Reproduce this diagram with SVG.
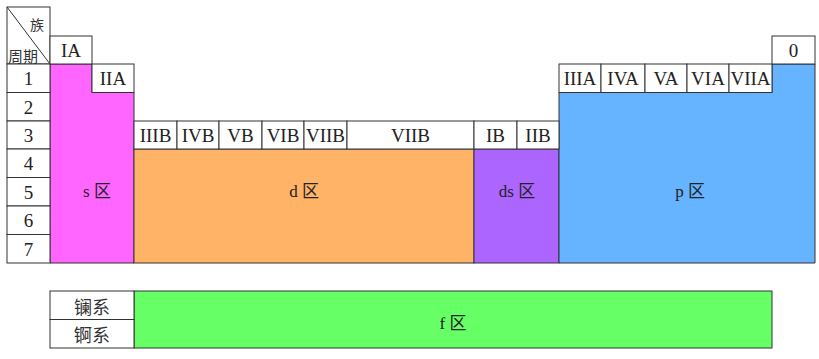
<svg xmlns="http://www.w3.org/2000/svg" width="819" height="359" viewBox="0 0 819 359">
<style>
.cell{fill:#fff;stroke:#333;stroke-width:1}
.blk{stroke:#333;stroke-width:1}
text{font-family:"Liberation Serif","Noto Sans CJK SC",serif;fill:#222;text-anchor:middle;dominant-baseline:central}
.lab{font-size:19px}
.blab{font-size:17px}
.cjk{font-family:"Noto Sans CJK SC",sans-serif;fill:#333}
</style>
<rect width="819" height="359" fill="#fff"/>
<g id="blocks">
<g id="s-block"><polygon class="blk" fill="#ff66ff" points="50,64 92,64 92,92.5 134,92.5 134,263 50,263"/><text class="blab" x="97" y="191">s 区</text></g>
<g id="d-block"><rect class="blk" fill="#ffb366" x="134" y="149" width="340" height="114"/><text class="blab" x="304" y="191">d 区</text></g>
<g id="ds-block"><rect class="blk" fill="#ac66ff" x="474" y="149" width="85" height="114"/><text class="blab" x="517" y="191">ds 区</text></g>
<g id="p-block"><polygon class="blk" fill="#66b3ff" points="559,92.5 772,92.5 772,64 815,64 815,263 559,263"/><text class="blab" x="690" y="191">p 区</text></g>
<g id="f-block"><rect class="blk" fill="#66ff66" x="134" y="291" width="638" height="57"/><text class="blab" x="453" y="323">f 区</text></g>
</g>
<g id="header">
<rect class="cell" x="7" y="7" width="43" height="57"/>
<line x1="7" y1="7" x2="50" y2="64" stroke="#333" stroke-width="1"/>
<text class="cjk" x="37" y="24" style="font-size:14px">族</text>
<text class="cjk" x="23" y="55" style="font-size:15px">周期</text>
</g>
<g id="periods">
<rect class="cell" x="7" y="64" width="43" height="28.5"/><text class="lab" x="28.5" y="78.5">1</text>
<rect class="cell" x="7" y="92.5" width="43" height="28.5"/><text class="lab" x="28.5" y="107">2</text>
<rect class="cell" x="7" y="121" width="43" height="28"/><text class="lab" x="28.5" y="135">3</text>
<rect class="cell" x="7" y="149" width="43" height="28.5"/><text class="lab" x="28.5" y="163.5">4</text>
<rect class="cell" x="7" y="177.5" width="43" height="28.5"/><text class="lab" x="28.5" y="192">5</text>
<rect class="cell" x="7" y="206" width="43" height="28.5"/><text class="lab" x="28.5" y="220.5">6</text>
<rect class="cell" x="7" y="234.5" width="43" height="28.5"/><text class="lab" x="28.5" y="249">7</text>
</g>
<g id="groups-A">
<rect class="cell" x="50" y="36" width="42" height="28"/><text class="lab" x="71" y="50">IA</text>
<rect class="cell" x="92" y="64" width="42" height="28.5"/><text class="lab" x="113" y="78.5">IIA</text>
<rect class="cell" x="559" y="64" width="42" height="28.5"/><text class="lab" x="580" y="78.5">IIIA</text>
<rect class="cell" x="601" y="64" width="44" height="28.5"/><text class="lab" x="623" y="78.5">IVA</text>
<rect class="cell" x="645" y="64" width="42" height="28.5"/><text class="lab" x="666" y="78.5">VA</text>
<rect class="cell" x="687" y="64" width="42" height="28.5"/><text class="lab" x="708" y="78.5">VIA</text>
<rect class="cell" x="729" y="64" width="43" height="28.5"/><text class="lab" x="750.5" y="78.5">VIIA</text>
<rect class="cell" x="772" y="36" width="43" height="28"/><text class="lab" x="793.5" y="50">0</text>
</g>
<g id="groups-B">
<rect class="cell" x="134" y="121" width="43" height="28"/><text class="lab" x="155.5" y="135">IIIB</text>
<rect class="cell" x="177" y="121" width="42" height="28"/><text class="lab" x="198" y="135">IVB</text>
<rect class="cell" x="219" y="121" width="43" height="28"/><text class="lab" x="240.5" y="135">VB</text>
<rect class="cell" x="262" y="121" width="42" height="28"/><text class="lab" x="283" y="135">VIB</text>
<rect class="cell" x="304" y="121" width="43" height="28"/><text class="lab" x="325.5" y="135">VIIB</text>
<rect class="cell" x="347" y="121" width="127" height="28"/><text class="lab" x="410.5" y="135">VIIB</text>
<rect class="cell" x="474" y="121" width="43" height="28"/><text class="lab" x="495.5" y="135">IB</text>
<rect class="cell" x="517" y="121" width="42" height="28"/><text class="lab" x="538" y="135">IIB</text>
</g>
<g id="series">
<rect class="cell" x="50" y="291" width="84" height="28.5"/><text class="cjk" x="92" y="306" style="font-size:18px">镧系</text>
<rect class="cell" x="50" y="319.5" width="84" height="28.5"/><text class="cjk" x="92" y="334" style="font-size:18px">锕系</text>
</g>
</svg>
